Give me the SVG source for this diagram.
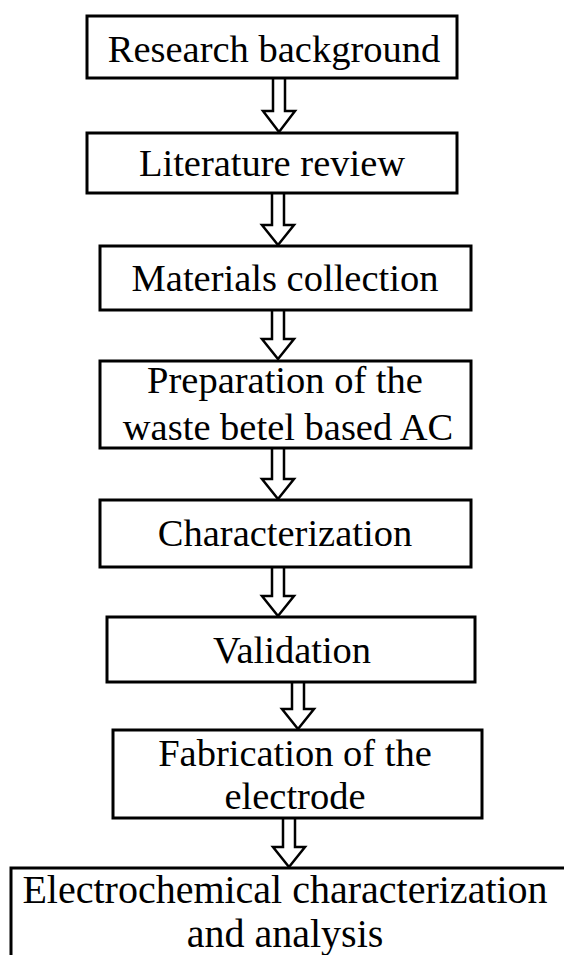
<svg xmlns="http://www.w3.org/2000/svg" width="564" height="955" viewBox="0 0 564 955">
<style>
.box{fill:#fff;stroke:#000;stroke-width:3}
.t{font-family:"Liberation Serif","Times New Roman",serif;font-size:38.5px;fill:#000;text-anchor:middle}
.t8{font-size:40px}
.arr{fill:#fff;stroke:#000;stroke-width:2.5;stroke-linejoin:miter}
</style>
<rect width="564" height="955" fill="#fff"/>
<g id="connectors">
<path class="arr" d="M273,78 V111 H263 L279,132 L295,111 H285 V78"/>
<path class="arr" d="M272,194 V225 H262 L278,245 L294,225 H284 V194"/>
<path class="arr" d="M272,311 V339 H262 L278,359 L294,339 H284 V311"/>
<path class="arr" d="M272,449 V479 H262 L278,499 L294,479 H284 V449"/>
<path class="arr" d="M272,568 V596 H262 L278,616 L294,596 H284 V568"/>
<path class="arr" d="M292,683 V709 H282 L298,729 L314,709 H304 V683"/>
<path class="arr" d="M283,819 V847 H273 L289,867 L305,847 H295 V819"/>
</g>
<g id="n1"><rect class="box" x="87" y="16" width="370" height="62"/><text class="t" x="274" y="62">Research background</text></g>
<g id="n2"><rect class="box" x="87" y="133" width="370" height="60"/><text class="t" x="272" y="176">Literature review</text></g>
<g id="n3"><rect class="box" x="100" y="246" width="371" height="64"/><text class="t" x="285" y="291">Materials collection</text></g>
<g id="n4"><rect class="box" x="100" y="361" width="371" height="87"/><text class="t" x="285" y="393">Preparation of the</text><text class="t" x="288" y="440">waste betel based AC</text></g>
<g id="n5"><rect class="box" x="100" y="500" width="371" height="67"/><text class="t" x="285" y="546">Characterization</text></g>
<g id="n6"><rect class="box" x="107" y="617" width="368" height="65"/><text class="t" x="292" y="663">Validation</text></g>
<g id="n7"><rect class="box" x="113" y="730" width="369" height="88"/><text class="t" x="295" y="766">Fabrication of the</text><text class="t" x="295" y="809">electrode</text></g>
<g id="n8"><rect class="box" x="11" y="868" width="570" height="100"/><text class="t t8" x="285" y="903">Electrochemical characterization</text><text class="t t8" x="285" y="947">and analysis</text></g>
</svg>
